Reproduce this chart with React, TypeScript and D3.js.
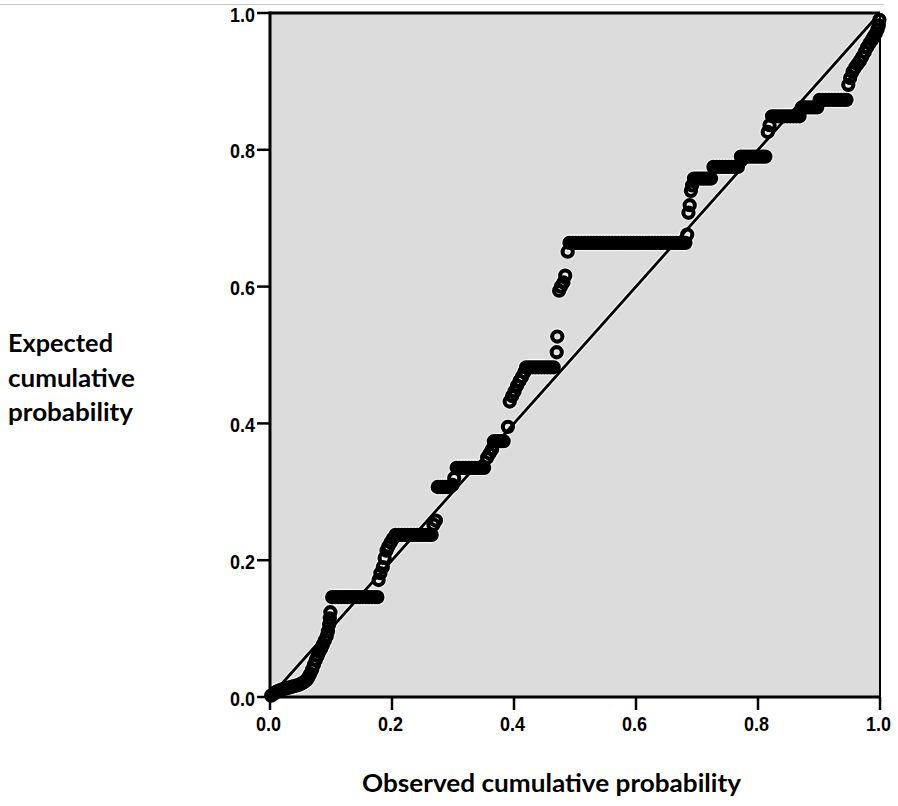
import React from "react";
import * as d3 from "d3";

const tickValues = [0, 0.2, 0.4, 0.6, 0.8, 1.0];
const tickLabels = ["0.0", "0.2", "0.4", "0.6", "0.8", "1.0"];
const xTitle = "Observed cumulative probability";
const yTitleLines = ["Expected", "cumulative", "probability"];
const yTitleWidths = [105, 127, 125];

// [observed, expected] pairs
const lowerPoints: [number, number][] = [
  [0.002, 0.002], [0.005, 0.004], [0.008, 0.006], [0.011, 0.008], [0.014, 0.009], [0.017, 0.010],
  [0.020, 0.011], [0.024, 0.012], [0.028, 0.013], [0.032, 0.014], [0.036, 0.015], [0.040, 0.016],
  [0.044, 0.017], [0.048, 0.018], [0.052, 0.020], [0.056, 0.022], [0.060, 0.025], [0.063, 0.029],
  [0.066, 0.034], [0.069, 0.040], [0.072, 0.047], [0.075, 0.054], [0.078, 0.060], [0.081, 0.066],
  [0.084, 0.071], [0.087, 0.077], [0.090, 0.083], [0.093, 0.089], [0.095, 0.096], [0.097, 0.106],
  [0.098, 0.115], [0.099, 0.124],
  [0.102, 0.146], [0.107, 0.146], [0.112, 0.146], [0.117, 0.146], [0.122, 0.146], [0.127, 0.146],
  [0.132, 0.146], [0.137, 0.146], [0.142, 0.146], [0.147, 0.146], [0.152, 0.146], [0.157, 0.146],
  [0.162, 0.146], [0.167, 0.146], [0.172, 0.146], [0.176, 0.146],
  [0.178, 0.171], [0.181, 0.181], [0.185, 0.190], [0.188, 0.203], [0.191, 0.214], [0.194, 0.220],
  [0.198, 0.226], [0.202, 0.232],
  [0.206, 0.237], [0.211, 0.237], [0.216, 0.237], [0.221, 0.237], [0.226, 0.237], [0.231, 0.237],
  [0.236, 0.237], [0.241, 0.237], [0.246, 0.237], [0.251, 0.237], [0.256, 0.237], [0.261, 0.237],
  [0.265, 0.237],
  [0.268, 0.252], [0.272, 0.258],
];

const middlePoints: [number, number][] = [
  [0.275, 0.307], [0.279, 0.307], [0.283, 0.307], [0.287, 0.307], [0.291, 0.307], [0.295, 0.307],
  [0.299, 0.310], [0.302, 0.320],
  [0.306, 0.335], [0.311, 0.335], [0.316, 0.335], [0.321, 0.335], [0.326, 0.335], [0.331, 0.335],
  [0.336, 0.335], [0.341, 0.335], [0.346, 0.335], [0.351, 0.335],
  [0.356, 0.350], [0.360, 0.356], [0.364, 0.362],
  [0.367, 0.374], [0.371, 0.374], [0.375, 0.374], [0.379, 0.374], [0.383, 0.374],
  [0.390, 0.395],
  [0.393, 0.432], [0.397, 0.440], [0.401, 0.447], [0.405, 0.455], [0.409, 0.462], [0.413, 0.468],
  [0.417, 0.475],
  [0.420, 0.482], [0.425, 0.482], [0.430, 0.482], [0.435, 0.482], [0.440, 0.482], [0.445, 0.482],
  [0.450, 0.482], [0.455, 0.482], [0.460, 0.482], [0.465, 0.482],
  [0.470, 0.504], [0.471, 0.527],
  [0.474, 0.594], [0.477, 0.600], [0.481, 0.606], [0.484, 0.616], [0.488, 0.651],
];

const upperPoints: [number, number][] = [
  [0.491, 0.664], [0.496, 0.664], [0.501, 0.664], [0.506, 0.664], [0.511, 0.664], [0.516, 0.664],
  [0.521, 0.664], [0.526, 0.664], [0.531, 0.664], [0.536, 0.664], [0.541, 0.664], [0.546, 0.664],
  [0.551, 0.664], [0.556, 0.664], [0.561, 0.664], [0.566, 0.664], [0.571, 0.664], [0.576, 0.664],
  [0.581, 0.664], [0.586, 0.664], [0.591, 0.664], [0.596, 0.664], [0.601, 0.664], [0.606, 0.664],
  [0.611, 0.664], [0.616, 0.664], [0.621, 0.664], [0.626, 0.664], [0.631, 0.664], [0.636, 0.664],
  [0.641, 0.664], [0.646, 0.664], [0.651, 0.664], [0.656, 0.664], [0.661, 0.664], [0.666, 0.664],
  [0.671, 0.664], [0.676, 0.664], [0.681, 0.664],
  [0.684, 0.676], [0.686, 0.708], [0.688, 0.719], [0.690, 0.740], [0.692, 0.748],
  [0.695, 0.758], [0.699, 0.758], [0.703, 0.758], [0.707, 0.758], [0.711, 0.758], [0.715, 0.758],
  [0.719, 0.758], [0.723, 0.758],
  [0.727, 0.775], [0.732, 0.775], [0.737, 0.775], [0.742, 0.775], [0.747, 0.775], [0.752, 0.775],
  [0.757, 0.775], [0.762, 0.775], [0.767, 0.775],
  [0.772, 0.790], [0.777, 0.790], [0.782, 0.790], [0.787, 0.790], [0.792, 0.790], [0.797, 0.790],
  [0.802, 0.790], [0.807, 0.790], [0.812, 0.790],
  [0.816, 0.826], [0.819, 0.836],
  [0.823, 0.849], [0.828, 0.849], [0.833, 0.849], [0.838, 0.849], [0.843, 0.849], [0.848, 0.849],
  [0.853, 0.849], [0.858, 0.849], [0.863, 0.849], [0.868, 0.849],
  [0.872, 0.862], [0.877, 0.862], [0.882, 0.862], [0.887, 0.862], [0.892, 0.862], [0.897, 0.862],
  [0.901, 0.873], [0.906, 0.873], [0.911, 0.873], [0.916, 0.873], [0.921, 0.873], [0.926, 0.873],
  [0.931, 0.873], [0.936, 0.873], [0.941, 0.873], [0.945, 0.873],
  [0.948, 0.895], [0.951, 0.905],
  [0.955, 0.914], [0.959, 0.920], [0.963, 0.925], [0.967, 0.930], [0.971, 0.936], [0.975, 0.943],
  [0.979, 0.950], [0.983, 0.956], [0.987, 0.961], [0.990, 0.966], [0.993, 0.970], [0.996, 0.976],
  [0.998, 0.982], [0.999, 0.990],
];

const points = [...lowerPoints, ...middlePoints, ...upperPoints];

const W = 898;
const H = 806;
const left = 270;
const right = 880;
const top = 13;
const bottom = 697;

export default function App() {
  const x = d3.scaleLinear().domain([0, 1]).range([left, right]);
  const y = d3.scaleLinear().domain([0, 1]).range([bottom, top]);
  const line = d3.line<[number, number]>().x((d) => x(d[0])).y((d) => y(d[1]));
  const diag: [number, number][] = [[0, 0], [1, 1]];
  const tickFont = "'Liberation Sans', Arial, sans-serif";
  const titleFont = "Lato, 'Open Sans', sans-serif";
  const R = 5.1;

  return (
    <svg
      width={W}
      height={H}
      style={{ position: "absolute", left: 0, top: 0, background: "#fff" }}
    >
      <rect x={0} y={0} width={W} height={H} fill="#ffffff" />
      <line x1={0} x2={884} y1={4.5} y2={4.5} stroke="#c9c9c9" strokeWidth={1} />
      <rect x={left} y={top} width={right - left} height={bottom - top} fill="#dcdcdc" />

      <path d={line(diag) || ""} stroke="#ffffff" strokeOpacity={0.6} strokeWidth={5.5} fill="none" />
      <g>
        {points.map((d, i) => (
          <circle
            key={"h" + i}
            cx={x(d[0])}
            cy={y(d[1])}
            r={R}
            fill="none"
            stroke="#ffffff"
            strokeOpacity={0.55}
            strokeWidth={6.8}
          />
        ))}
      </g>
      <path d={line(diag) || ""} stroke="#000" strokeWidth={2.8} fill="none" />
      <g>
        {points.map((d, i) => (
          <circle
            key={"p" + i}
            cx={x(d[0])}
            cy={y(d[1])}
            r={R}
            fill="none"
            stroke="#000"
            strokeWidth={4.1}
          />
        ))}
      </g>

      <line x1={left} x2={right} y1={top} y2={top} stroke="#000" strokeWidth={3} />
      <line x1={right} x2={right} y1={top} y2={bottom} stroke="#000" strokeWidth={2} />
      <line x1={left} x2={left} y1={top - 1.5} y2={bottom + 1.5} stroke="#000" strokeWidth={3} />
      <line x1={left - 1.5} x2={right + 1} y1={bottom} y2={bottom} stroke="#000" strokeWidth={3} />

      {tickValues.map((v, i) => (
        <g key={"yt" + i}>
          <line x1={left - 13} x2={left} y1={y(v)} y2={y(v)} stroke="#000" strokeWidth={2.5} />
          <text
            x={255}
            y={y(v) + 8.5}
            textAnchor="end"
            fontFamily={tickFont}
            fontWeight="bold"
            fontSize={20}
            textLength={25}
            lengthAdjust="spacingAndGlyphs"
            fill="#000"
          >
            {tickLabels[i]}
          </text>
        </g>
      ))}

      {tickValues.map((v, i) => (
        <g key={"xt" + i}>
          <line x1={x(v)} x2={x(v)} y1={bottom} y2={bottom + 13} stroke="#000" strokeWidth={2.5} />
          <text
            x={x(v) - 1.5}
            y={731}
            textAnchor="middle"
            fontFamily={tickFont}
            fontWeight="bold"
            fontSize={20}
            textLength={25}
            lengthAdjust="spacingAndGlyphs"
            fill="#000"
          >
            {tickLabels[i]}
          </text>
        </g>
      ))}

      {yTitleLines.map((t, i) => (
        <text
          key={"yl" + i}
          x={8}
          y={352 + i * 34.5}
          fontFamily={titleFont}
          fontWeight="bold"
          fontSize={24}
          textLength={yTitleWidths[i]}
          lengthAdjust="spacingAndGlyphs"
          fill="#000"
        >
          {t}
        </text>
      ))}
      <text
        x={362}
        y={792}
        fontFamily={titleFont}
        fontWeight="bold"
        fontSize={24}
        textLength={379}
        lengthAdjust="spacingAndGlyphs"
        fill="#000"
      >
        {xTitle}
      </text>
    </svg>
  );
}
